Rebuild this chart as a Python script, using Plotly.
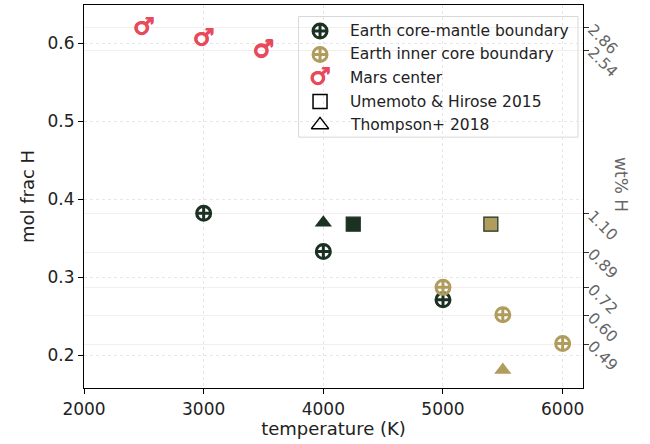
import plotly.graph_objects as go

# Earth core-mantle boundary
cmb_temp = [3000, 4000, 5000]
cmb_xh = [0.382, 0.333, 0.271]
# Earth inner core boundary
icb_temp = [5000, 5500, 6000]
icb_xh = [0.287, 0.252, 0.215]
# Mars center
mars_temp = [2500, 3000, 3500]
mars_xh = [0.619, 0.605, 0.590]
# Umemoto & Hirose 2015 (cmb, icb)
um_temp = [4250, 5400]
um_xh = [0.368, 0.368]
# Thompson+ 2018 (cmb, icb)
th_temp = [4000, 5500]
th_xh = [0.370, 0.181]

# right axis: wt% H labels
wt_labels = ["2.86", "2.54", "1.10", "0.89", "0.72", "0.60", "0.49"]

legend_names = ["Earth core-mantle boundary", "Earth inner core boundary",
                "Mars center", "Umemoto & Hirose 2015", "Thompson+ 2018"]

DARK = "#1b3123"
TAN = "#b09d5e"
RED = "#e84a5c"
FONT = "DejaVu Sans"


def wt_to_molfrac(w):
    nh = w / 1.008
    nfe = (100 - w) / 55.845
    return nh / (nh + nfe)


wt_pos = [wt_to_molfrac(float(w)) for w in wt_labels]

fig = go.Figure()

earth_marker = dict(symbol="circle-cross-open", size=14, line=dict(width=3))
bold_shadow = ", ".join(f"{dx}px {dy}px 0 {RED}" for dx, dy in
                        [(0.6, 0), (-0.6, 0), (0, 0.6), (0, -0.6)])
mars_font = dict(family=FONT, size=24, color=RED, weight="bold", shadow=bold_shadow)

fig.add_trace(go.Scatter(x=cmb_temp, y=cmb_xh, mode="markers",
                         marker=dict(earth_marker, color=DARK), showlegend=False))
fig.add_trace(go.Scatter(x=icb_temp, y=icb_xh, mode="markers",
                         marker=dict(earth_marker, color=TAN), showlegend=False))
fig.add_trace(go.Scatter(x=mars_temp, y=mars_xh, mode="text", text=["♂"] * 3,
                         textfont=mars_font, showlegend=False))
fig.add_trace(go.Scatter(x=um_temp, y=um_xh, mode="markers",
                         marker=dict(symbol="square", size=14, color=[DARK, TAN],
                                     line=dict(color=DARK, width=1.2)),
                         showlegend=False))
fig.add_trace(go.Scatter(x=th_temp, y=th_xh, mode="markers",
                         marker=dict(symbol="triangle-up", size=15, color=[DARK, TAN],
                                     line=dict(width=0)),
                         showlegend=False))

# twin axis for wt% H grid/ticks
fig.add_trace(go.Scatter(x=[None], y=[None], yaxis="y2", showlegend=False))

# hand-made legend on an overlay axis (0..1 over plot area)
leg_y = [0.932, 0.871, 0.809, 0.748, 0.687]
leg_x = 0.473
fig.add_trace(go.Scatter(x=[leg_x], y=[leg_y[0]], xaxis="x3", yaxis="y3", mode="markers",
                         marker=dict(earth_marker, color=DARK), showlegend=False))
fig.add_trace(go.Scatter(x=[leg_x], y=[leg_y[1]], xaxis="x3", yaxis="y3", mode="markers",
                         marker=dict(earth_marker, color=TAN), showlegend=False))
fig.add_trace(go.Scatter(x=[leg_x], y=[leg_y[2]], xaxis="x3", yaxis="y3", mode="text",
                         text=["♂"], textfont=mars_font, showlegend=False))
fig.add_trace(go.Scatter(x=[leg_x], y=[leg_y[3]], xaxis="x3", yaxis="y3", mode="markers",
                         marker=dict(symbol="square-open", size=14, color="black",
                                     line=dict(width=1.5)), showlegend=False))
fig.add_trace(go.Scatter(x=[leg_x], y=[leg_y[4]], xaxis="x3", yaxis="y3", mode="markers",
                         marker=dict(symbol="triangle-up-open", size=15, color="black",
                                     line=dict(width=1.5)), showlegend=False))
for name, yy in zip(legend_names, leg_y):
    fig.add_annotation(x=0.53, y=yy, xref="x3", yref="y3", text=name, showarrow=False,
                       xanchor="left", yanchor="middle",
                       font=dict(family=FONT, size=15.5, color="#222"))

fig.add_shape(type="rect", xref="x3", yref="y3", x0=0.43, x1=0.99, y0=0.655, y1=0.97,
              line=dict(color="#d8d8d8", width=1), fillcolor="rgba(255,255,255,0.8)",
              layer="below")

fig.add_annotation(text="wt% H", x=1.1, y=0.53, xref="paper", yref="paper",
                   textangle=90, showarrow=False,
                   font=dict(family=FONT, size=17, color="#666"))

title_font = dict(family=FONT, size=18, color="#222")

fig.update_layout(
    width=650, height=444,
    margin=dict(l=84, r=67, t=5, b=56),
    plot_bgcolor="white", paper_bgcolor="white",
    font=dict(family=FONT, size=17, color="#222"),
    showlegend=False,
    xaxis=dict(range=[2000, 6170], tickvals=[2000, 3000, 4000, 5000, 6000],
               automargin=False,
               showline=True, linecolor="black", linewidth=1.2, mirror=True,
               ticks="outside", ticklen=5, tickcolor="black",
               showgrid=True, gridcolor="#e6e6e6", griddash="3px,3px", gridwidth=1,
               zeroline=False,
               title=dict(text="temperature (K)", standoff=3, font=title_font)),
    yaxis=dict(range=[0.158, 0.649], tickvals=[0.2, 0.3, 0.4, 0.5, 0.6],
               automargin=False,
               showline=True, linecolor="black", linewidth=1.2,
               ticks="outside", ticklen=5, tickcolor="black",
               showgrid=True, gridcolor="#e6e6e6", griddash="3px,3px", gridwidth=1,
               zeroline=False,
               title=dict(text="mol frac H", standoff=8, font=title_font)),
    yaxis2=dict(overlaying="y", side="right", range=[0.158, 0.649],
                automargin=False,
                tickvals=wt_pos, ticktext=wt_labels, tickangle=45,
                tickfont=dict(color="#666", size=15.5),
                showline=True, linecolor="black", linewidth=1.2,
                ticks="outside", ticklen=5, tickcolor="#333",
                showgrid=True, gridcolor="rgba(235,215,215,0.45)", zeroline=False),
    xaxis3=dict(overlaying="x", range=[0, 1], visible=False),
    yaxis3=dict(overlaying="y", range=[0, 1], visible=False),
)

# drop the default 8px page margin so the figure sits at the window's corner
fig.write_html("out.html", config={"displayModeBar": False},
               post_script="document.body.style.margin = '0';")
